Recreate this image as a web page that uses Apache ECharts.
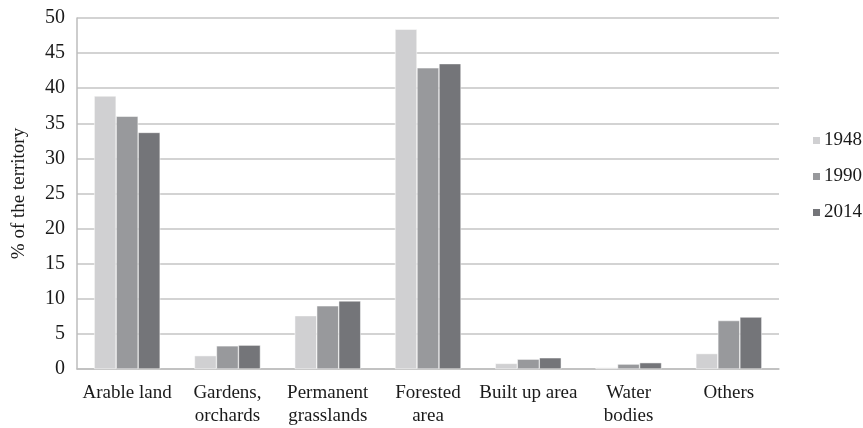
<!DOCTYPE html>
<html><head><meta charset="utf-8">
<script src="https://cdn.jsdelivr.net/npm/echarts@6/dist/echarts.min.js"></script>
<style>html,body{margin:0;padding:0;background:#fff}#c{width:863px;height:428px}</style>
</head><body><div id="c"></div>
<script>
const categories = ['Arable land', 'Gardens,\norchards', 'Permanent\ngrasslands', 'Forested\narea', 'Built up area', 'Water\nbodies', 'Others'];
const years = ['1948', '1990', '2014'];
const v1948 = [38.9, 1.9, 7.6, 48.4, 0.8, 0.2, 2.2];
const v1990 = [36.0, 3.3, 9.0, 42.9, 1.4, 0.7, 6.9];
const v2014 = [33.7, 3.4, 9.7, 43.5, 1.6, 0.9, 7.4];
const yTicks = {min: 0, max: 50, interval: 5};
const colors = ['#d0d0d2', '#98999c', '#747579'];
const font = 'Liberation Serif';
const chart = echarts.init(document.getElementById('c'));
const mk = (name, data, i) => ({
  name, type: 'bar', data, barWidth: 22, barGap: '0%',
  itemStyle: {color: colors[i], borderColor: '#fff', borderWidth: 0.5}
});
chart.setOption({
  animation: false,
  textStyle: {fontFamily: font},
  grid: {left: 77, right: 84, top: 18, bottom: 54, containLabel: false},
  legend: {
    orient: 'vertical', left: 806, top: 126, itemGap: 17,
    itemWidth: 9, itemHeight: 9, icon: 'rect',
    textStyle: {fontFamily: font, fontSize: 19, color: '#1a1a1a', padding: [0, 0, 0, -2]},
    data: years
  },
  xAxis: {
    type: 'category', data: categories,
    axisTick: {show: false},
    axisLine: {lineStyle: {color: '#bdbdbd', width: 1.5}},
    axisLabel: {fontFamily: font, fontSize: 19, color: '#1a1a1a', margin: 13, lineHeight: 23, interval: 0}
  },
  yAxis: {
    type: 'value', min: yTicks.min, max: yTicks.max, interval: yTicks.interval,
    name: '% of the territory', nameLocation: 'middle', nameGap: 48, nameRotate: 90,
    nameTextStyle: {fontFamily: font, fontSize: 19, color: '#1a1a1a'},
    axisLine: {show: true, lineStyle: {color: '#bdbdbd', width: 1.5}},
    axisTick: {show: false},
    splitLine: {lineStyle: {color: '#c4c4c4', width: 1.5}},
    axisLabel: {fontFamily: font, fontSize: 20, color: '#1a1a1a', margin: 12}
  },
  series: [mk(years[0], v1948, 0), mk(years[1], v1990, 1), mk(years[2], v2014, 2)]
});
</script></body></html>
